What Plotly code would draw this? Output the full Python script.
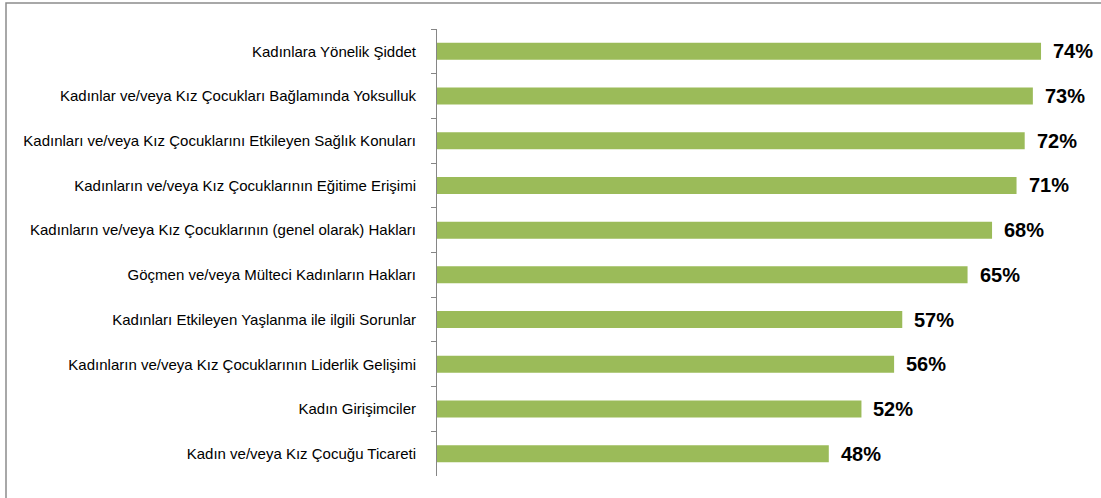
import plotly.graph_objects as go

categories = [
    "Kadınlara Yönelik Şiddet",
    "Kadınlar ve/veya Kız Çocukları Bağlamında Yoksulluk",
    "Kadınları ve/veya Kız Çocuklarını Etkileyen Sağlık Konuları",
    "Kadınların ve/veya Kız Çocuklarının Eğitime Erişimi",
    "Kadınların ve/veya Kız Çocuklarının (genel olarak) Hakları",
    "Göçmen ve/veya Mülteci Kadınların Hakları",
    "Kadınları Etkileyen Yaşlanma ile ilgili Sorunlar",
    "Kadınların ve/veya Kız Çocuklarının Liderlik Gelişimi",
    "Kadın Girişimciler",
    "Kadın ve/veya Kız Çocuğu Ticareti",
]
values = [74, 73, 72, 71, 68, 65, 57, 56, 52, 48]
value_labels = [f"{v}%" for v in values]

W, H = 1101, 498
ML, MR, MT, MB = 437, 11, 29, 22

fig = go.Figure()
fig.add_trace(go.Bar(
    x=values, y=categories, orientation="h",
    marker=dict(color="#9BBB59", line=dict(width=0)),
    hoverinfo="skip",
))

for c, v, t in zip(categories, values, value_labels):
    fig.add_annotation(
        x=v, y=c, text=f"<b>{t}</b>", showarrow=False,
        xanchor="left", yanchor="middle", xshift=10,
        font=dict(family="Liberation Sans, Arial", size=20, color="#000000"),
    )

pw = W - ML - MR
ph = H - MT - MB
# outer frame (top and left edges visible)
x0 = (6 - ML) / pw
x1 = (W + 5 - ML) / pw
y1 = (H - 3 - MB) / ph
y0 = (-10 - MB) / ph
fig.add_shape(type="rect", xref="paper", yref="paper", x0=x0, x1=x1, y0=y0, y1=y1,
              line=dict(color="#8C8C8C", width=1.5), fillcolor="rgba(0,0,0,0)", layer="below")

fig.update_layout(
    width=W, height=H,
    margin=dict(l=ML, r=MR, t=MT, b=MB, pad=0),
    paper_bgcolor="white", plot_bgcolor="white",
    showlegend=False,
    bargap=0.62,
    font=dict(family="Liberation Sans, Arial", size=15, color="#000000"),
    xaxis=dict(range=[0, 80], visible=False, showgrid=False, zeroline=False, fixedrange=True),
    yaxis=dict(
        type="category", autorange=False, range=[9.5, -0.5],
        categoryorder="array", categoryarray=categories,
        showline=True, linecolor="#868686", linewidth=1,
        ticks="outside", tickson="boundaries", ticklen=5, tickcolor="#868686", tickwidth=1,
        ticklabelstandoff=17,
        showgrid=False, zeroline=False, fixedrange=True,
        tickfont=dict(family="Liberation Sans, Arial", size=15, color="#000000"),
    ),
)

fig.write_html("out.html", config={"displayModeBar": False},
               post_script="document.body.style.margin='0';")
